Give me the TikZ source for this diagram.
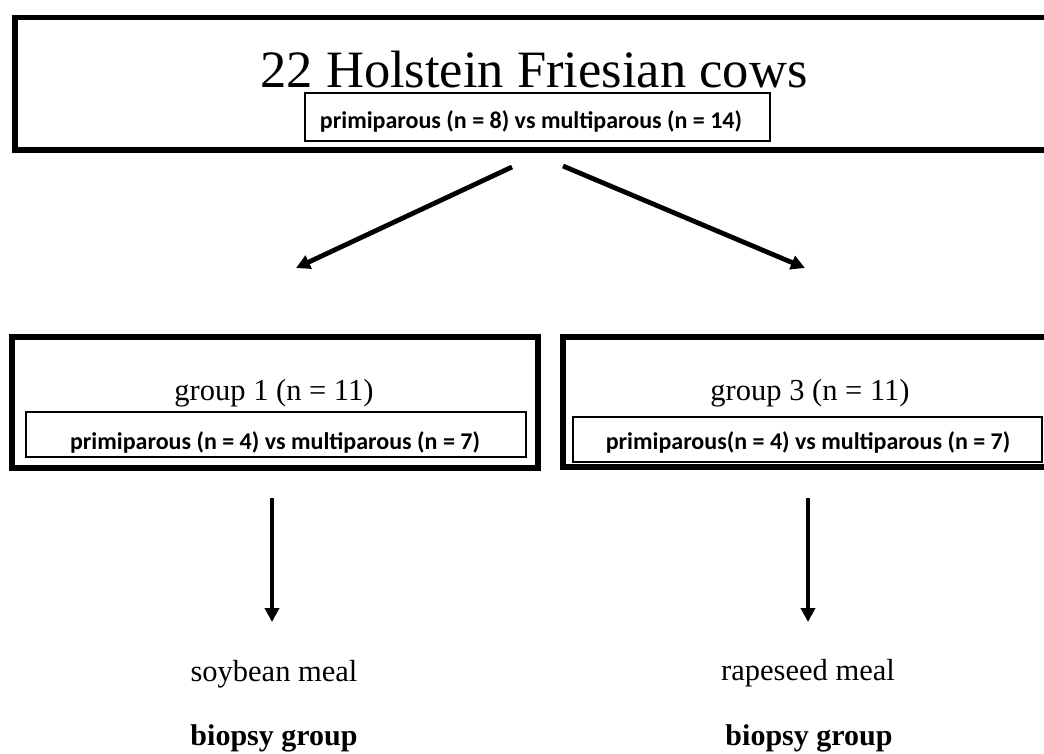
\documentclass[tikz,border=0pt]{standalone}
\usepackage{fontspec}
\setmainfont{Liberation Serif}
\newfontfamily\carl{Carlito}
\usetikzlibrary{arrows.meta}
\begin{document}
\begin{tikzpicture}[x=1pt,y=-1pt,
  bigbox/.style={draw, line width=5.5pt, inner sep=0pt},
  subbox/.style={draw, line width=1.3pt, inner sep=0pt},
  subtxt/.style={font=\carl\bfseries\fontsize{24}{28}\selectfont, inner sep=0pt},
  grptxt/.style={font=\fontsize{30.5}{34}\selectfont, inner sep=0pt, anchor=base},
  biotxt/.style={font=\bfseries\fontsize{30}{34}\selectfont, inner sep=0pt, anchor=base},
  arr/.style={line width=4.8pt, -{Triangle[length=14pt,width=14pt]}},
]
\useasboundingbox (0,0) rectangle (1044,754);
\clip (0,0) rectangle (1044,754);
\fill[white] (0,0) rectangle (1044,754);

% top box
\node[bigbox, minimum width=1045pt, minimum height=132.5pt] (top) at (537.5,83.75) {};
\node[anchor=base, font=\fontsize{52.5}{60}\selectfont, inner sep=0pt] (title) at (534,88) {22 Holstein Friesian cows};
\node[subbox, minimum width=465pt, minimum height=48pt] (topsub) at (537.5,117) {};
\node[subtxt] (topsubt) at (531,121) {primiparous (n = 8) vs multiparous (n = 14)};

% group boxes
\node[bigbox, minimum width=526pt, minimum height=131pt] (g1) at (275,402.5) {};
\node[bigbox, minimum width=510pt, minimum height=130pt] (g3) at (818,402) {};
\node[subbox, minimum width=500pt, minimum height=45pt] (g1sub) at (276,434.5) {};
\node[subbox, minimum width=469pt, minimum height=45pt] (g3sub) at (807.5,439.5) {};

\node[grptxt] (g1t) at (274,400) {group 1 (n = 11)};
\node[grptxt] (g3t) at (810,400) {group 3 (n = 11)};
\node[subtxt] (g1st) at (275,442) {primiparous (n = 4) vs multiparous (n = 7)};
\node[subtxt] (g3st) at (808,442) {primiparous(n = 4) vs multiparous (n = 7)};

% bottom labels
\node[grptxt] (soy) at (274,681) {soybean meal};
\node[grptxt] (rape) at (808,680) {rapeseed meal};
\node[biotxt] (bio1) at (274,745) {biopsy group};
\node[biotxt] (bio3) at (809,745) {biopsy group};

% arrow end points
\coordinate (a1s) at (512,167);
\coordinate (a1e) at (296,268);
\coordinate (a2s) at (563,166);
\coordinate (a2e) at (805,268);
\coordinate (a3s) at (272,498);
\coordinate (a3e) at (272,622);
\coordinate (a4s) at (808,498);
\coordinate (a4e) at (808,622);

\draw[arr] (a1s) -- (a1e);
\draw[arr] (a2s) -- (a2e);
\draw[arr] (a3s) -- (a3e);
\draw[arr] (a4s) -- (a4e);
\end{tikzpicture}
\end{document}
